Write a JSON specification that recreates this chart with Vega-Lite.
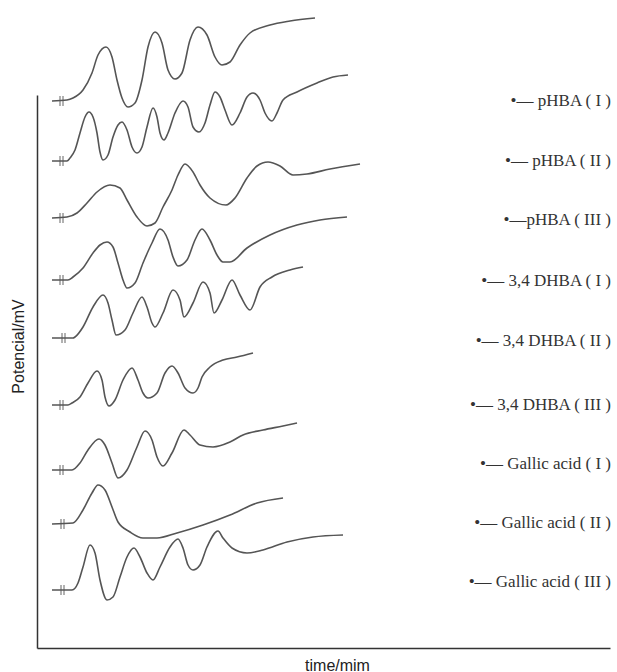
{
  "$schema": "https://vega.github.io/schema/vega-lite/v6.json",
  "width": 573,
  "height": 553,
  "autosize": "none",
  "padding": {"left": 37, "top": 95, "right": 7, "bottom": 24},
  "background": "white",
  "config": {"view": {"stroke": null}},
  "datasets": {
    "curves": [
      {"trace":"pHBA ( I )","time":15,"mV":547},{"trace":"pHBA ( I )","time":30,"mV":548},{"trace":"pHBA ( I )","time":36,"mV":550},{"trace":"pHBA ( I )","time":46,"mV":558},{"trace":"pHBA ( I )","time":55,"mV":575},{"trace":"pHBA ( I )","time":61,"mV":593},{"trace":"pHBA ( I )","time":69,"mV":601},{"trace":"pHBA ( I )","time":75,"mV":591},{"trace":"pHBA ( I )","time":80,"mV":568},{"trace":"pHBA ( I )","time":85,"mV":550},{"trace":"pHBA ( I )","time":91,"mV":541},{"trace":"pHBA ( I )","time":98,"mV":545},{"trace":"pHBA ( I )","time":105,"mV":568},{"trace":"pHBA ( I )","time":111,"mV":601},{"trace":"pHBA ( I )","time":118,"mV":616},{"trace":"pHBA ( I )","time":125,"mV":605},{"trace":"pHBA ( I )","time":131,"mV":578},{"trace":"pHBA ( I )","time":138,"mV":569},{"trace":"pHBA ( I )","time":145,"mV":575},{"trace":"pHBA ( I )","time":153,"mV":608},{"trace":"pHBA ( I )","time":161,"mV":621},{"trace":"pHBA ( I )","time":170,"mV":613},{"trace":"pHBA ( I )","time":178,"mV":591},{"trace":"pHBA ( I )","time":185,"mV":583},{"trace":"pHBA ( I )","time":193,"mV":586},{"trace":"pHBA ( I )","time":203,"mV":603},{"trace":"pHBA ( I )","time":213,"mV":615},{"trace":"pHBA ( I )","time":233,"mV":623},{"trace":"pHBA ( I )","time":253,"mV":627},{"trace":"pHBA ( I )","time":278,"mV":630},
      {"trace":"pHBA ( II )","time":15,"mV":487},{"trace":"pHBA ( II )","time":30,"mV":487},{"trace":"pHBA ( II )","time":33,"mV":490},{"trace":"pHBA ( II )","time":38,"mV":498},{"trace":"pHBA ( II )","time":43,"mV":515},{"trace":"pHBA ( II )","time":48,"mV":531},{"trace":"pHBA ( II )","time":52,"mV":536},{"trace":"pHBA ( II )","time":56,"mV":531},{"trace":"pHBA ( II )","time":60,"mV":515},{"trace":"pHBA ( II )","time":63,"mV":496},{"trace":"pHBA ( II )","time":66,"mV":488},{"trace":"pHBA ( II )","time":71,"mV":493},{"trace":"pHBA ( II )","time":76,"mV":511},{"trace":"pHBA ( II )","time":81,"mV":523},{"trace":"pHBA ( II )","time":85,"mV":526},{"trace":"pHBA ( II )","time":90,"mV":518},{"trace":"pHBA ( II )","time":95,"mV":501},{"trace":"pHBA ( II )","time":100,"mV":495},{"trace":"pHBA ( II )","time":105,"mV":501},{"trace":"pHBA ( II )","time":110,"mV":521},{"trace":"pHBA ( II )","time":116,"mV":540},{"trace":"pHBA ( II )","time":120,"mV":531},{"trace":"pHBA ( II )","time":123,"mV":515},{"trace":"pHBA ( II )","time":127,"mV":508},{"trace":"pHBA ( II )","time":131,"mV":515},{"trace":"pHBA ( II )","time":138,"mV":535},{"trace":"pHBA ( II )","time":146,"mV":547},{"trace":"pHBA ( II )","time":151,"mV":541},{"trace":"pHBA ( II )","time":156,"mV":521},{"trace":"pHBA ( II )","time":162,"mV":516},{"trace":"pHBA ( II )","time":168,"mV":525},{"trace":"pHBA ( II )","time":173,"mV":543},{"trace":"pHBA ( II )","time":178,"mV":556},{"trace":"pHBA ( II )","time":183,"mV":551},{"trace":"pHBA ( II )","time":188,"mV":538},{"trace":"pHBA ( II )","time":195,"mV":523},{"trace":"pHBA ( II )","time":203,"mV":535},{"trace":"pHBA ( II )","time":210,"mV":551},{"trace":"pHBA ( II )","time":216,"mV":555},{"trace":"pHBA ( II )","time":223,"mV":548},{"trace":"pHBA ( II )","time":228,"mV":535},{"trace":"pHBA ( II )","time":235,"mV":527},{"trace":"pHBA ( II )","time":240,"mV":535},{"trace":"pHBA ( II )","time":246,"mV":548},{"trace":"pHBA ( II )","time":260,"mV":556},{"trace":"pHBA ( II )","time":280,"mV":565},{"trace":"pHBA ( II )","time":296,"mV":571},{"trace":"pHBA ( II )","time":311,"mV":573},
      {"trace":"pHBA ( III )","time":15,"mV":430},{"trace":"pHBA ( III )","time":30,"mV":431},{"trace":"pHBA ( III )","time":40,"mV":435},{"trace":"pHBA ( III )","time":50,"mV":445},{"trace":"pHBA ( III )","time":60,"mV":456},{"trace":"pHBA ( III )","time":73,"mV":463},{"trace":"pHBA ( III )","time":83,"mV":460},{"trace":"pHBA ( III )","time":90,"mV":448},{"trace":"pHBA ( III )","time":100,"mV":431},{"trace":"pHBA ( III )","time":110,"mV":422},{"trace":"pHBA ( III )","time":118,"mV":425},{"trace":"pHBA ( III )","time":126,"mV":441},{"trace":"pHBA ( III )","time":135,"mV":458},{"trace":"pHBA ( III )","time":141,"mV":473},{"trace":"pHBA ( III )","time":148,"mV":484},{"trace":"pHBA ( III )","time":156,"mV":476},{"trace":"pHBA ( III )","time":163,"mV":463},{"trace":"pHBA ( III )","time":173,"mV":450},{"trace":"pHBA ( III )","time":189,"mV":443},{"trace":"pHBA ( III )","time":198,"mV":450},{"trace":"pHBA ( III )","time":210,"mV":470},{"trace":"pHBA ( III )","time":220,"mV":482},{"trace":"pHBA ( III )","time":231,"mV":486},{"trace":"pHBA ( III )","time":243,"mV":482},{"trace":"pHBA ( III )","time":256,"mV":473},{"trace":"pHBA ( III )","time":270,"mV":474},{"trace":"pHBA ( III )","time":293,"mV":479},{"trace":"pHBA ( III )","time":323,"mV":484},
      {"trace":"3,4 DHBA ( I )","time":15,"mV":368},{"trace":"3,4 DHBA ( I )","time":31,"mV":368},{"trace":"3,4 DHBA ( I )","time":36,"mV":371},{"trace":"3,4 DHBA ( I )","time":46,"mV":380},{"trace":"3,4 DHBA ( I )","time":56,"mV":395},{"trace":"3,4 DHBA ( I )","time":63,"mV":403},{"trace":"3,4 DHBA ( I )","time":70,"mV":406},{"trace":"3,4 DHBA ( I )","time":76,"mV":401},{"trace":"3,4 DHBA ( I )","time":81,"mV":385},{"trace":"3,4 DHBA ( I )","time":86,"mV":368},{"trace":"3,4 DHBA ( I )","time":90,"mV":360},{"trace":"3,4 DHBA ( I )","time":98,"mV":365},{"trace":"3,4 DHBA ( I )","time":106,"mV":385},{"trace":"3,4 DHBA ( I )","time":115,"mV":405},{"trace":"3,4 DHBA ( I )","time":123,"mV":419},{"trace":"3,4 DHBA ( I )","time":131,"mV":408},{"trace":"3,4 DHBA ( I )","time":136,"mV":391},{"trace":"3,4 DHBA ( I )","time":141,"mV":382},{"trace":"3,4 DHBA ( I )","time":150,"mV":388},{"trace":"3,4 DHBA ( I )","time":158,"mV":408},{"trace":"3,4 DHBA ( I )","time":165,"mV":419},{"trace":"3,4 DHBA ( I )","time":173,"mV":408},{"trace":"3,4 DHBA ( I )","time":180,"mV":393},{"trace":"3,4 DHBA ( I )","time":186,"mV":386},{"trace":"3,4 DHBA ( I )","time":193,"mV":386},{"trace":"3,4 DHBA ( I )","time":210,"mV":400},{"trace":"3,4 DHBA ( I )","time":233,"mV":413},{"trace":"3,4 DHBA ( I )","time":260,"mV":423},{"trace":"3,4 DHBA ( I )","time":283,"mV":428},{"trace":"3,4 DHBA ( I )","time":310,"mV":431},
      {"trace":"3,4 DHBA ( II )","time":15,"mV":310},{"trace":"3,4 DHBA ( II )","time":36,"mV":310},{"trace":"3,4 DHBA ( II )","time":38,"mV":311},{"trace":"3,4 DHBA ( II )","time":46,"mV":321},{"trace":"3,4 DHBA ( II )","time":56,"mV":341},{"trace":"3,4 DHBA ( II )","time":66,"mV":353},{"trace":"3,4 DHBA ( II )","time":71,"mV":345},{"trace":"3,4 DHBA ( II )","time":75,"mV":328},{"trace":"3,4 DHBA ( II )","time":79,"mV":313},{"trace":"3,4 DHBA ( II )","time":88,"mV":318},{"trace":"3,4 DHBA ( II )","time":96,"mV":335},{"trace":"3,4 DHBA ( II )","time":105,"mV":351},{"trace":"3,4 DHBA ( II )","time":110,"mV":341},{"trace":"3,4 DHBA ( II )","time":115,"mV":325},{"trace":"3,4 DHBA ( II )","time":118,"mV":321},{"trace":"3,4 DHBA ( II )","time":126,"mV":335},{"trace":"3,4 DHBA ( II )","time":136,"mV":358},{"trace":"3,4 DHBA ( II )","time":143,"mV":348},{"trace":"3,4 DHBA ( II )","time":147,"mV":331},{"trace":"3,4 DHBA ( II )","time":156,"mV":345},{"trace":"3,4 DHBA ( II )","time":166,"mV":366},{"trace":"3,4 DHBA ( II )","time":173,"mV":355},{"trace":"3,4 DHBA ( II )","time":177,"mV":335},{"trace":"3,4 DHBA ( II )","time":185,"mV":348},{"trace":"3,4 DHBA ( II )","time":195,"mV":368},{"trace":"3,4 DHBA ( II )","time":203,"mV":353},{"trace":"3,4 DHBA ( II )","time":213,"mV":338},{"trace":"3,4 DHBA ( II )","time":223,"mV":361},{"trace":"3,4 DHBA ( II )","time":235,"mV":371},{"trace":"3,4 DHBA ( II )","time":253,"mV":378},{"trace":"3,4 DHBA ( II )","time":266,"mV":381},
      {"trace":"3,4 DHBA ( III )","time":15,"mV":243},{"trace":"3,4 DHBA ( III )","time":31,"mV":243},{"trace":"3,4 DHBA ( III )","time":35,"mV":245},{"trace":"3,4 DHBA ( III )","time":43,"mV":251},{"trace":"3,4 DHBA ( III )","time":51,"mV":265},{"trace":"3,4 DHBA ( III )","time":60,"mV":277},{"trace":"3,4 DHBA ( III )","time":65,"mV":268},{"trace":"3,4 DHBA ( III )","time":68,"mV":251},{"trace":"3,4 DHBA ( III )","time":72,"mV":242},{"trace":"3,4 DHBA ( III )","time":78,"mV":248},{"trace":"3,4 DHBA ( III )","time":86,"mV":268},{"trace":"3,4 DHBA ( III )","time":95,"mV":280},{"trace":"3,4 DHBA ( III )","time":101,"mV":268},{"trace":"3,4 DHBA ( III )","time":106,"mV":255},{"trace":"3,4 DHBA ( III )","time":111,"mV":250},{"trace":"3,4 DHBA ( III )","time":120,"mV":255},{"trace":"3,4 DHBA ( III )","time":128,"mV":275},{"trace":"3,4 DHBA ( III )","time":135,"mV":282},{"trace":"3,4 DHBA ( III )","time":141,"mV":275},{"trace":"3,4 DHBA ( III )","time":148,"mV":260},{"trace":"3,4 DHBA ( III )","time":156,"mV":255},{"trace":"3,4 DHBA ( III )","time":161,"mV":260},{"trace":"3,4 DHBA ( III )","time":165,"mV":271},{"trace":"3,4 DHBA ( III )","time":173,"mV":281},{"trace":"3,4 DHBA ( III )","time":186,"mV":288},{"trace":"3,4 DHBA ( III )","time":200,"mV":291},{"trace":"3,4 DHBA ( III )","time":216,"mV":295},
      {"trace":"Gallic acid ( I )","time":15,"mV":178},{"trace":"Gallic acid ( I )","time":35,"mV":178},{"trace":"Gallic acid ( I )","time":43,"mV":185},{"trace":"Gallic acid ( I )","time":51,"mV":198},{"trace":"Gallic acid ( I )","time":62,"mV":209},{"trace":"Gallic acid ( I )","time":68,"mV":203},{"trace":"Gallic acid ( I )","time":75,"mV":185},{"trace":"Gallic acid ( I )","time":81,"mV":170},{"trace":"Gallic acid ( I )","time":90,"mV":178},{"trace":"Gallic acid ( I )","time":100,"mV":201},{"trace":"Gallic acid ( I )","time":108,"mV":217},{"trace":"Gallic acid ( I )","time":115,"mV":208},{"trace":"Gallic acid ( I )","time":120,"mV":191},{"trace":"Gallic acid ( I )","time":126,"mV":182},{"trace":"Gallic acid ( I )","time":135,"mV":195},{"trace":"Gallic acid ( I )","time":147,"mV":218},{"trace":"Gallic acid ( I )","time":153,"mV":213},{"trace":"Gallic acid ( I )","time":163,"mV":203},{"trace":"Gallic acid ( I )","time":176,"mV":201},{"trace":"Gallic acid ( I )","time":193,"mV":206},{"trace":"Gallic acid ( I )","time":206,"mV":213},{"trace":"Gallic acid ( I )","time":226,"mV":218},{"trace":"Gallic acid ( I )","time":246,"mV":222},{"trace":"Gallic acid ( I )","time":260,"mV":225},
      {"trace":"Gallic acid ( II )","time":15,"mV":124},{"trace":"Gallic acid ( II )","time":36,"mV":125},{"trace":"Gallic acid ( II )","time":46,"mV":138},{"trace":"Gallic acid ( II )","time":55,"mV":155},{"trace":"Gallic acid ( II )","time":61,"mV":163},{"trace":"Gallic acid ( II )","time":68,"mV":158},{"trace":"Gallic acid ( II )","time":75,"mV":141},{"trace":"Gallic acid ( II )","time":81,"mV":126},{"trace":"Gallic acid ( II )","time":93,"mV":116},{"trace":"Gallic acid ( II )","time":106,"mV":110},{"trace":"Gallic acid ( II )","time":120,"mV":110},{"trace":"Gallic acid ( II )","time":140,"mV":115},{"trace":"Gallic acid ( II )","time":166,"mV":123},{"trace":"Gallic acid ( II )","time":193,"mV":133},{"trace":"Gallic acid ( II )","time":220,"mV":145},{"trace":"Gallic acid ( II )","time":246,"mV":150},
      {"trace":"Gallic acid ( III )","time":15,"mV":58},{"trace":"Gallic acid ( III )","time":35,"mV":58},{"trace":"Gallic acid ( III )","time":41,"mV":65},{"trace":"Gallic acid ( III )","time":46,"mV":81},{"trace":"Gallic acid ( III )","time":53,"mV":103},{"trace":"Gallic acid ( III )","time":58,"mV":95},{"trace":"Gallic acid ( III )","time":63,"mV":68},{"trace":"Gallic acid ( III )","time":70,"mV":48},{"trace":"Gallic acid ( III )","time":76,"mV":51},{"trace":"Gallic acid ( III )","time":83,"mV":71},{"trace":"Gallic acid ( III )","time":90,"mV":91},{"trace":"Gallic acid ( III )","time":97,"mV":100},{"trace":"Gallic acid ( III )","time":103,"mV":91},{"trace":"Gallic acid ( III )","time":110,"mV":75},{"trace":"Gallic acid ( III )","time":116,"mV":68},{"trace":"Gallic acid ( III )","time":123,"mV":81},{"trace":"Gallic acid ( III )","time":133,"mV":101},{"trace":"Gallic acid ( III )","time":141,"mV":109},{"trace":"Gallic acid ( III )","time":146,"mV":100},{"trace":"Gallic acid ( III )","time":151,"mV":83},{"trace":"Gallic acid ( III )","time":156,"mV":78},{"trace":"Gallic acid ( III )","time":163,"mV":83},{"trace":"Gallic acid ( III )","time":170,"mV":101},{"trace":"Gallic acid ( III )","time":181,"mV":117},{"trace":"Gallic acid ( III )","time":186,"mV":110},{"trace":"Gallic acid ( III )","time":195,"mV":100},{"trace":"Gallic acid ( III )","time":210,"mV":95},{"trace":"Gallic acid ( III )","time":226,"mV":98},{"trace":"Gallic acid ( III )","time":250,"mV":106},{"trace":"Gallic acid ( III )","time":276,"mV":111},{"trace":"Gallic acid ( III )","time":306,"mV":113}
    ],
    "breaks": [
      {"trace":"pHBA ( I )","time":23,"mV":547},{"trace":"pHBA ( I )","time":26,"mV":547},
      {"trace":"pHBA ( II )","time":23,"mV":487},{"trace":"pHBA ( II )","time":26,"mV":487},
      {"trace":"pHBA ( III )","time":23,"mV":430},{"trace":"pHBA ( III )","time":26,"mV":430},
      {"trace":"3,4 DHBA ( I )","time":23,"mV":368},{"trace":"3,4 DHBA ( I )","time":26,"mV":368},
      {"trace":"3,4 DHBA ( II )","time":25,"mV":310},{"trace":"3,4 DHBA ( II )","time":28,"mV":310},
      {"trace":"3,4 DHBA ( III )","time":23,"mV":243},{"trace":"3,4 DHBA ( III )","time":26,"mV":243},
      {"trace":"Gallic acid ( I )","time":23,"mV":178},{"trace":"Gallic acid ( I )","time":26,"mV":178},
      {"trace":"Gallic acid ( II )","time":24,"mV":124},{"trace":"Gallic acid ( II )","time":27,"mV":124},
      {"trace":"Gallic acid ( III )","time":24,"mV":58},{"trace":"Gallic acid ( III )","time":27,"mV":58}
    ],
    "labels": [
      {"label":"•— pHBA ( I )","time":574,"mV":547},
      {"label":"•— pHBA ( II )","time":574,"mV":487},
      {"label":"•—pHBA ( III )","time":574,"mV":428},
      {"label":"•— 3,4 DHBA ( I )","time":574,"mV":367},
      {"label":"•— 3,4 DHBA ( II )","time":574,"mV":307},
      {"label":"•— 3,4 DHBA ( III )","time":574,"mV":243},
      {"label":"•— Gallic acid ( I )","time":574,"mV":184},
      {"label":"•— Gallic acid ( II )","time":574,"mV":125},
      {"label":"•— Gallic acid ( III )","time":574,"mV":66}
    ]
  },
  "encoding": {
    "x": {"field": "time", "type": "quantitative", "scale": {"domain": [0, 573], "nice": false, "zero": false},
      "axis": {"title": "time/mim", "labels": false, "ticks": false, "grid": false,
        "domainColor": "#333333", "domainWidth": 1.5,
        "titleFont": "Liberation Sans", "titleFontSize": 16, "titleFontWeight": "normal", "titleColor": "#222222",
        "titleX": 300, "titleY": 22, "titleAlign": "center", "titleBaseline": "alphabetic"}},
    "y": {"field": "mV", "type": "quantitative", "scale": {"domain": [0, 553], "nice": false, "zero": false},
      "axis": {"title": "Potencial/mV", "labels": false, "ticks": false, "grid": false,
        "domainColor": "#333333", "domainWidth": 1.5,
        "titleFont": "Liberation Sans", "titleFontSize": 16, "titleFontWeight": "normal", "titleColor": "#222222",
        "titleAngle": 270, "titleX": -14, "titleY": 251, "titleAlign": "center", "titleBaseline": "alphabetic"}}
  },
  "layer": [
    {
      "data": {"name": "curves"},
      "mark": {"type": "line", "interpolate": "monotone", "color": "#555555", "strokeWidth": 1.6},
      "encoding": {"detail": {"field": "trace"}}
    },
    {
      "data": {"name": "breaks"},
      "mark": {"type": "tick", "orient": "vertical", "size": 10, "thickness": 1.3, "color": "#555555"},
      "encoding": {}
    },
    {
      "data": {"name": "labels"},
      "mark": {"type": "text", "align": "right", "baseline": "middle", "font": "Liberation Serif", "fontSize": 17, "color": "#333333"},
      "encoding": {"text": {"field": "label"}}
    }
  ]
}
